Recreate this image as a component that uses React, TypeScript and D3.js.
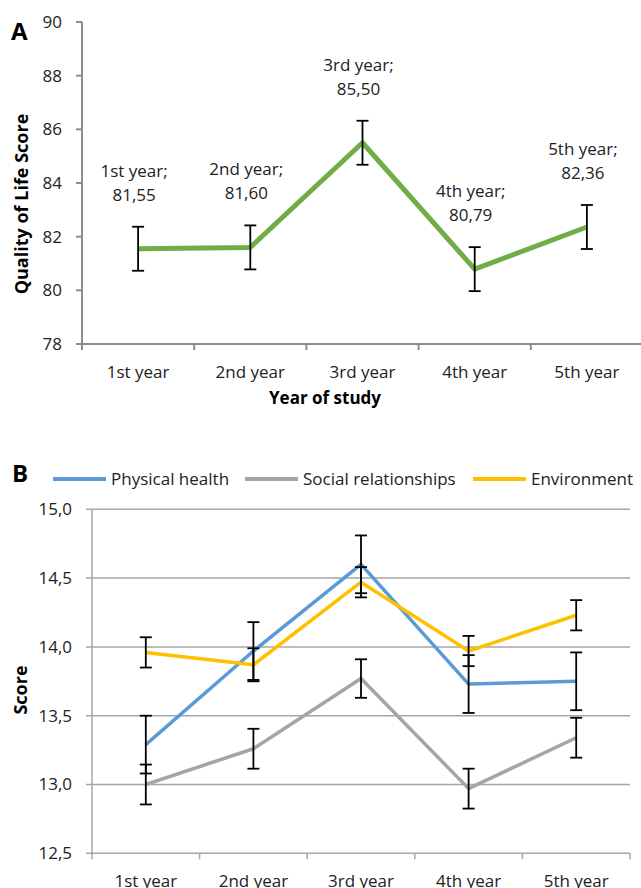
import React from "react";
import * as d3 from "d3";

const years = ["1st year", "2nd year", "3rd year", "4th year", "5th year"];
const qolValues = [81.55, 81.6, 85.5, 80.79, 82.36];
const qolLabels = ["81,55", "81,60", "85,50", "80,79", "82,36"];
const qolError = [0.82, 0.82, 0.82, 0.82, 0.82];
const yTicksA = [78, 80, 82, 84, 86, 88, 90];

const seriesNames = ["Physical health", "Social relationships", "Environment"];
const physical = [13.29, 13.97, 14.6, 13.73, 13.75];
const physicalErr = [0.21, 0.21, 0.21, 0.21, 0.21];
const social = [13.0, 13.26, 13.77, 12.97, 13.34];
const socialErr = [0.145, 0.145, 0.14, 0.145, 0.145];
const environment = [13.96, 13.87, 14.47, 13.97, 14.23];
const environmentErr = [0.11, 0.12, 0.11, 0.11, 0.11];
const yTicksB = [12.5, 13.0, 13.5, 14.0, 14.5, 15.0];

const seriesColors = ["#5B9BD5", "#A5A5A5", "#FFC000"];
const FONT = "'Open Sans', 'Noto Sans', sans-serif";
const AXIS = "#8C8C8C";
const GRID = "#A6A6A6";

const fmt = (v: number) => v.toFixed(1).replace(".", ",");

export default function App() {
  // Chart A
  const xA = d3.scaleBand<string>().domain(years).range([82, 643]);
  const yA = d3.scaleLinear().domain([78, 90]).range([344, 22]);
  const cxA = (i: number) => (xA(years[i]) as number) + xA.bandwidth() / 2;
  const lineA = d3
    .line<number>()
    .x((_, i) => cxA(i))
    .y((d) => yA(d));

  // Chart B
  const xB = d3.scaleBand<string>().domain(years).range([92, 630]);
  const yB = d3.scaleLinear().domain([12.5, 15]).range([853.3, 509.3]);
  const cxB = (i: number) => (xB(years[i]) as number) + xB.bandwidth() / 2;
  const lineB = d3
    .line<number>()
    .x((_, i) => cxB(i))
    .y((d) => yB(d));

  const seriesB = [
    { name: seriesNames[0], values: physical, err: physicalErr, color: seriesColors[0] },
    { name: seriesNames[1], values: social, err: socialErr, color: seriesColors[1] },
    { name: seriesNames[2], values: environment, err: environmentErr, color: seriesColors[2] },
  ];

  const legendX = [53, 245, 473];

  const errBar = (x: number, y1: number, y2: number, key: string) => (
    <g key={key} stroke="#000" strokeWidth={1.8}>
      <line x1={x} x2={x} y1={y1} y2={y2} />
      <line x1={x - 6} x2={x + 6} y1={y1} y2={y1} />
      <line x1={x - 6} x2={x + 6} y1={y2} y2={y2} />
    </g>
  );

  return (
    <svg
      width={641}
      height={888}
      style={{ position: "absolute", left: 0, top: 0, background: "#fff" }}
      fontFamily={FONT}
    >
      <rect width={641} height={888} fill="#fff" />
      {/* ---------- Chart A ---------- */}
      <text x={11} y={40} fontSize={24} fontWeight="bold" fill="#000">
        A
      </text>
      {/* y axis */}
      <line x1={82} x2={82} y1={yA(90)} y2={yA(78)} stroke={AXIS} strokeWidth={2} />
      {yTicksA.map((t) => (
        <g key={"ya" + t}>
          <line x1={76} x2={82} y1={yA(t)} y2={yA(t)} stroke={AXIS} strokeWidth={2} />
          <text x={62} y={yA(t)} dy="0.35em" textAnchor="end" fontSize={17} fill="#222">
            {t}
          </text>
        </g>
      ))}
      {/* x axis */}
      <line x1={82} x2={643} y1={344} y2={344} stroke={AXIS} strokeWidth={2} />
      {years.map((yr, i) => (
        <g key={"xa" + yr}>
          <line
            x1={xA(yr) as number}
            x2={xA(yr) as number}
            y1={344}
            y2={350}
            stroke={AXIS}
            strokeWidth={2}
          />
          <text x={cxA(i)} y={378} textAnchor="middle" fontSize={17} fill="#222">
            {yr}
          </text>
        </g>
      ))}
      <text
        transform={`translate(28,204) rotate(-90)`}
        textAnchor="middle"
        fontSize={18}
        fontWeight="bold"
        fill="#000"
      >
        Quality of Life Score
      </text>
      <text x={325} y={404} textAnchor="middle" fontSize={17} fontWeight="bold" fill="#000">
        Year of study
      </text>
      <path d={lineA(qolValues) || ""} fill="none" stroke="#70AD47" strokeWidth={5} strokeLinejoin="round" />
      {qolValues.map((v, i) => errBar(cxA(i), yA(v + qolError[i]), yA(v - qolError[i]), "ea" + i))}
      {qolValues.map((v, i) => (
        <text key={"la" + i} x={cxA(i) - 4} y={yA(v) - 48} textAnchor="middle" fontSize={17} fill="#222">
          <tspan x={cxA(i) - 4} dy={-24}>{years[i] + ";"}</tspan>
          <tspan x={cxA(i) - 4} dy={24}>{qolLabels[i]}</tspan>
        </text>
      ))}

      {/* ---------- Chart B ---------- */}
      <text x={12} y={482} fontSize={24} fontWeight="bold" fill="#000">
        B
      </text>
      {seriesB.map((s, i) => (
        <g key={"lg" + i}>
          <line x1={legendX[i]} x2={legendX[i] + 53} y1={479} y2={479} stroke={s.color} strokeWidth={4} />
          <text x={legendX[i] + 58} y={479} dy="0.35em" fontSize={17} fill="#222">
            {s.name}
          </text>
        </g>
      ))}
      {yTicksB.map((t) => (
        <g key={"yb" + t}>
          <line x1={86} x2={630} y1={yB(t)} y2={yB(t)} stroke={GRID} strokeWidth={1.5} />
          <text x={72} y={yB(t)} dy="0.35em" textAnchor="end" fontSize={17} fill="#222">
            {fmt(t)}
          </text>
        </g>
      ))}
      <line x1={92} x2={92} y1={yB(15)} y2={yB(12.5)} stroke={GRID} strokeWidth={1.5} />
      {years.map((yr, i) => (
        <g key={"xb" + yr}>
          <line
            x1={xB(yr) as number}
            x2={xB(yr) as number}
            y1={yB(12.5)}
            y2={yB(12.5) + 6}
            stroke={GRID}
            strokeWidth={1.5}
          />
          <text x={cxB(i)} y={887} textAnchor="middle" fontSize={17} fill="#222">
            {yr}
          </text>
        </g>
      ))}
      <line x1={630} x2={630} y1={yB(12.5)} y2={yB(12.5) + 6} stroke={GRID} strokeWidth={1.5} />
      <text
        transform={`translate(27,690) rotate(-90)`}
        textAnchor="middle"
        fontSize={18}
        fontWeight="bold"
        fill="#000"
      >
        Score
      </text>
      {seriesB.map((s, i) => (
        <path
          key={"lb" + i}
          d={lineB(s.values) || ""}
          fill="none"
          stroke={s.color}
          strokeWidth={3.5}
          strokeLinejoin="round"
        />
      ))}
      {seriesB.map((s, si) =>
        s.values.map((v, i) => errBar(cxB(i), yB(v + s.err[i]), yB(v - s.err[i]), "eb" + si + "-" + i))
      )}
    </svg>
  );
}
